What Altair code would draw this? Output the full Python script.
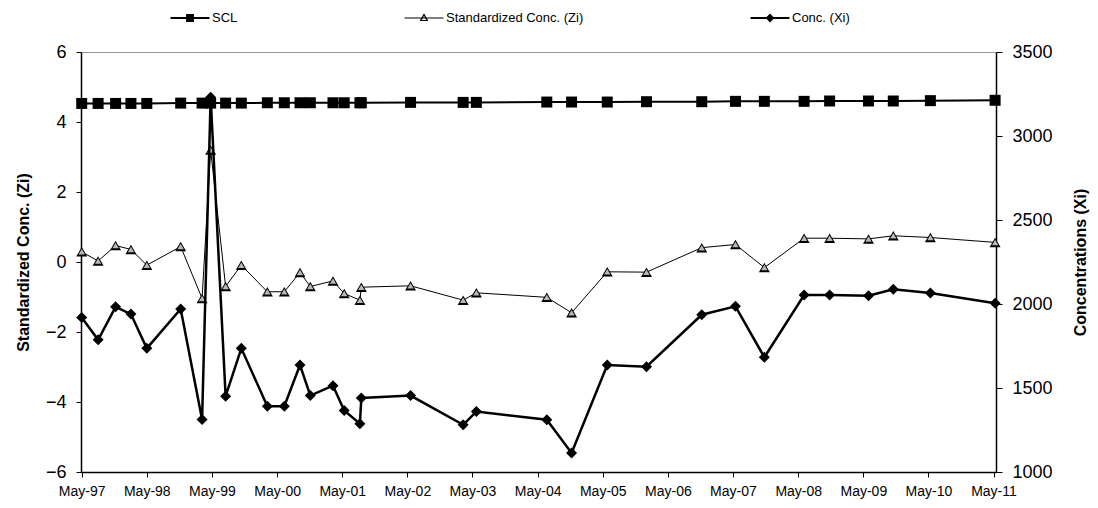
import altair as alt
import pandas as pd

# ---- data ----
dates = [
    "1997-05-01", "1997-08-01", "1997-11-07", "1998-02-01", "1998-05-01",
    "1998-11-07", "1999-03-07", "1999-04-24", "1999-07-17", "1999-10-13",
    "2000-03-07", "2000-06-10", "2000-09-06", "2000-11-03", "2001-03-10",
    "2001-05-12", "2001-08-08", "2001-08-16", "2002-05-19", "2003-03-10",
    "2003-05-23", "2004-06-21", "2004-11-07", "2005-05-26", "2006-01-01",
    "2006-11-07", "2007-05-15", "2007-10-24", "2008-06-03", "2008-10-24",
    "2009-05-30", "2009-10-16", "2010-05-12", "2011-05-10",
]
zi = [
    0.29, 0.03, 0.47, 0.36, -0.09,
    0.44, -1.04, 3.20, -0.70, -0.09,
    -0.85, -0.85, -0.30, -0.70, -0.54,
    -0.90, -1.09, -0.72, -0.68, -1.09,
    -0.88, -1.01, -1.45, -0.28, -0.29,
    0.41, 0.50, -0.16, 0.68, 0.68,
    0.66, 0.75, 0.70, 0.56,
]
xi = [
    1920, 1787, 1983, 1940, 1736,
    1970, 1312, 3230, 1451, 1736,
    1392, 1392, 1637, 1455, 1514,
    1366, 1287, 1441, 1455, 1281,
    1360, 1311, 1113, 1637, 1627,
    1936, 1986, 1683, 2053, 2053,
    2049, 2088, 2065, 2005,
]
scl = [
    4.53, 4.53, 4.53, 4.53, 4.53,
    4.54, 4.54, 4.54, 4.54, 4.54,
    4.55, 4.55, 4.55, 4.55, 4.55,
    4.55, 4.55, 4.55, 4.56, 4.56,
    4.56, 4.57, 4.57, 4.57, 4.58,
    4.58, 4.59, 4.59, 4.59, 4.60,
    4.60, 4.60, 4.61, 4.62,
]
series_names = ["SCL", "Standardized Conc. (Zi)", "Conc. (Xi)"]
tick_years = list(range(1997, 2012))
left_ticks = [-6, -4, -2, 0, 2, 4, 6]
right_ticks = [1000, 1500, 2000, 2500, 3000, 3500]

df = pd.DataFrame({"date": dates, "zi": zi, "xi": xi, "scl": scl})

FONT = "Liberation Sans"

x_enc = alt.X(
    "date:T",
    scale=alt.Scale(
        type="utc",
        domain=[alt.DateTime(year=1997, month=4, date=27, utc=True),
                alt.DateTime(year=2011, month=5, date=15, utc=True)],
    ),
    axis=alt.Axis(
        values=[alt.DateTime(year=y, month=5, date=1, utc=True) for y in tick_years],
        format="%b-%y", labelFont=FONT, labelFontSize=14, labelColor="black",
        tickSize=5, tickColor="black", domainColor="black", domainWidth=1.5,
        labelPadding=7, grid=False, title=None, labelFlush=False,
    ),
)

left_axis = alt.Axis(
    values=left_ticks, tickSize=5, tickColor="black", domainColor="black",
    domainWidth=1.5, labelFont=FONT, labelFontSize=18, labelColor="black",
    labelPadding=10, grid=False, title="Standardized Conc. (Zi)",
    titleFont=FONT, titleFontSize=16, titleFontWeight="bold", titleColor="black",
    titlePadding=14,
)
right_axis = alt.Axis(
    orient="right", values=right_ticks, format="d", tickSize=6, tickColor="black",
    domainColor="black", domainWidth=1.5, labelFont=FONT, labelFontSize=18,
    labelColor="black", labelPadding=10, grid=False, title="Concentrations (Xi)",
    titleFont=FONT, titleFontSize=16, titleFontWeight="bold", titleColor="black",
    titlePadding=36, titleAngle=270,
)
yL = alt.Scale(domain=[-6, 6], nice=False, zero=False)
yR = alt.Scale(domain=[1000, 3500], nice=False, zero=False)

base = alt.Chart(df)

scl_line = base.mark_line(color="black", strokeWidth=2).encode(
    x=x_enc, y=alt.Y("scl:Q", scale=yL, axis=left_axis))
scl_pts = base.mark_point(shape="square", filled=True, size=121, color="black", opacity=1).encode(
    x=x_enc, y=alt.Y("scl:Q", scale=yL, axis=left_axis))
zi_line = base.mark_line(color="black", strokeWidth=1).encode(
    x=x_enc, y=alt.Y("zi:Q", scale=yL, axis=left_axis))
zi_pts_outer = base.mark_point(shape="triangle-up", filled=True, size=120,
                               color="black", opacity=1).encode(
    x=x_enc, y=alt.Y("zi:Q", scale=yL, axis=left_axis))
zi_pts_inner = base.mark_point(shape="triangle-up", filled=True, size=40,
                               color="#b8b8b8", opacity=1).encode(
    x=x_enc, y=alt.Y("zi:Q", scale=yL, axis=left_axis))

# legend (drawn by the library's legend, from an empty-filtered layer)
legend_paths = [
    "M-2,-0.1H2V0.1H-2Z M-0.4,-0.4H0.4V0.4H-0.4Z",
    "M-2,-0.05H2V0.05H-2Z M0,-0.5L0.45,0.32H-0.45Z M0,-0.22L-0.22,0.2H0.22Z",
    "M-2,-0.1H2V0.1H-2Z M0,-0.45L0.45,0L0,0.45L-0.45,0Z",
]
leg = alt.Legend(
    title=None, orient="none", legendX=99, legendY=-44, direction="horizontal",
    symbolSize=380, symbolFillColor="black", symbolStrokeWidth=0,
    labelFont=FONT, labelFontSize=13, labelColor="black", labelOffset=12,
    columnPadding=166, symbolOpacity=1,
)
legend_df = pd.DataFrame({"series": series_names, "v": [0, 0, 0]})
legend_layer = alt.Chart(legend_df).mark_point(
    filled=True, opacity=1, color="black"
).encode(
    shape=alt.Shape("series:N", scale=alt.Scale(domain=series_names, range=legend_paths), legend=leg),
).transform_filter("datum.v > 1")

xi_line = base.mark_line(color="black", strokeWidth=2.5).encode(
    x=x_enc, y=alt.Y("xi:Q", scale=yR, axis=right_axis))
xi_pts = base.mark_point(shape="diamond", filled=True, size=121, color="black", opacity=1).encode(
    x=x_enc, y=alt.Y("xi:Q", scale=yR, axis=right_axis))

left = alt.layer(scl_line, zi_line, scl_pts, zi_pts_outer, zi_pts_inner, legend_layer)
right = alt.layer(xi_line, xi_pts)

chart = alt.layer(left, right).resolve_scale(y="independent").properties(
    width=915, height=420,
    padding={"left": 73, "top": 44, "right": 94, "bottom": 28},
    autosize=alt.AutoSizeParams(type="none"),
    background="white",
).configure_view(stroke="#999999", strokeWidth=1)

chart.save("out.html", embed_options={"renderer": "svg", "actions": False})
